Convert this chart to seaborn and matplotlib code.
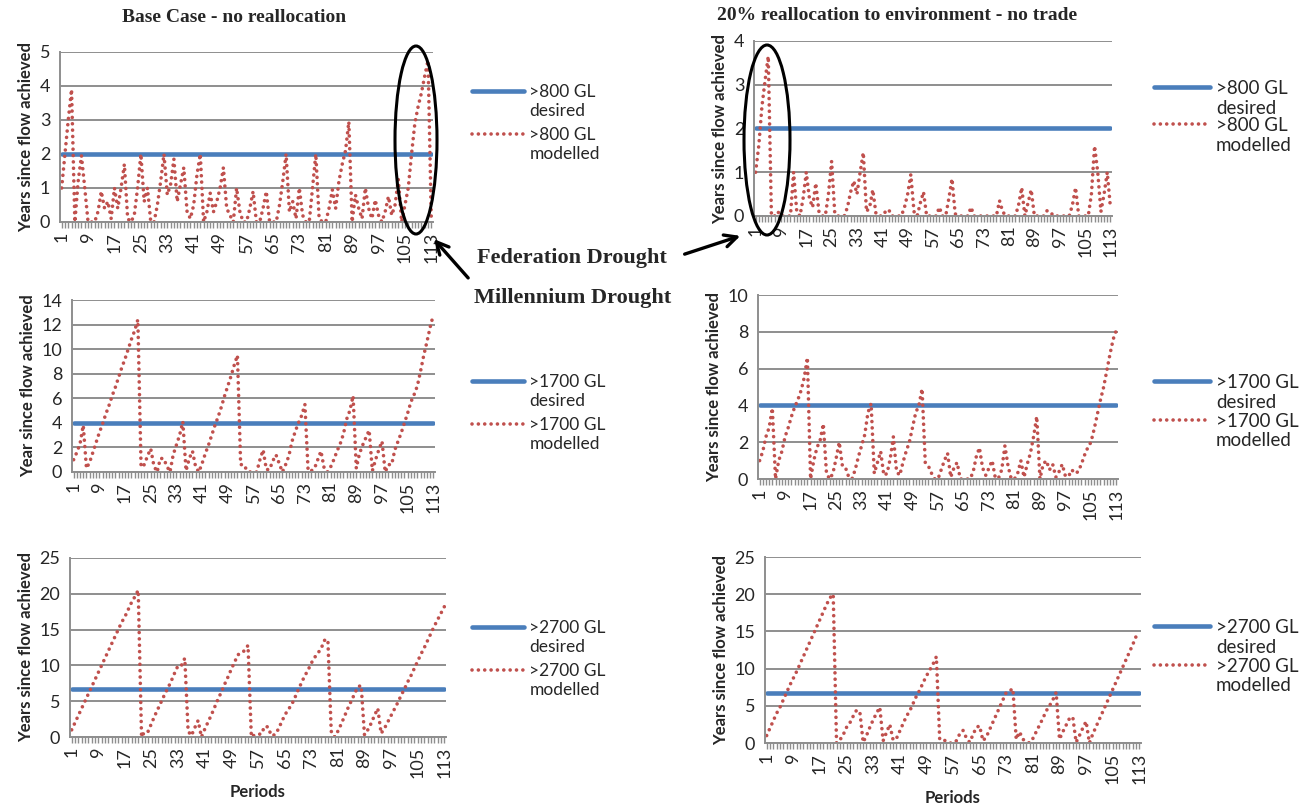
import numpy as np
import pandas as pd
import matplotlib
matplotlib.use("Agg")
import matplotlib.pyplot as plt
import matplotlib.transforms as mtransforms
import seaborn as sns
from matplotlib.patches import Ellipse, FancyArrowPatch
from matplotlib.lines import Line2D
from matplotlib.legend_handler import HandlerLine2D

# ---------------- data ----------------
periods = list(range(1, 114))
tick_periods = list(range(1, 114, 8))

base_800 = [
    1.0, 2.0, 3.0, 3.9, 0.0, 1.2, 1.95, 1.0, 0.0, 0.0,
    0.0, 0.3, 0.9, 0.4, 0.6, 0.1, 1.0, 0.4, 1.0, 1.7,
    0.1, 0.0, 0.2, 1.0, 2.0, 0.6, 1.0, 0.0, 0.0, 0.5,
    1.2, 2.0, 0.8, 1.1, 1.85, 0.6, 1.1, 1.6, 0.3, 0.1,
    0.5, 1.4, 2.0, 0.0, 0.3, 0.85, 0.3, 0.6, 1.0, 1.6,
    0.4, 0.2, 0.0, 1.0, 0.3, 0.0, 0.0, 0.4, 0.9, 0.0,
    0.0, 0.4, 0.9, 0.0, 0.0, 0.0, 0.5, 1.2, 2.0, 0.3,
    0.6, 0.1, 1.0, 0.2, 0.0, 0.0, 1.0, 2.0, 0.1, 0.0,
    0.0, 0.4, 0.95, 0.4, 1.2, 1.7, 2.1, 2.95, 0.0, 0.8,
    0.4, 0.1, 1.0, 0.4, 0.1, 0.65, 0.2, 0.0, 0.3, 0.75,
    0.2, 0.5, 1.25, 0.0, 0.5, 1.0, 2.0, 2.9, 3.4, 3.8,
    4.3, 4.75, 0.0]

realloc_800 = [
    1.0, 1.6, 2.5, 3.1, 3.65, 0.0, 0.0, 0.1, 0.0, 0.0,
    0.0, 0.0, 1.0, 0.1, 0.0, 0.4, 1.0, 0.4, 0.2, 0.75,
    0.1, 0.0, 0.0, 0.5, 1.25, 0.05, 0.0, 0.0, 0.0, 0.2,
    0.55, 0.8, 0.5, 1.0, 1.45, 0.1, 0.2, 0.6, 0.05, 0.0,
    0.0, 0.1, 0.15, 0.0, 0.0, 0.0, 0.0, 0.2, 0.5, 0.95,
    0.1, 0.0, 0.3, 0.55, 0.0, 0.0, 0.0, 0.0, 0.2, 0.0,
    0.0, 0.4, 0.85, 0.05, 0.0, 0.0, 0.0, 0.0, 0.2, 0.0,
    0.0, 0.0, 0.0, 0.0, 0.0, 0.0, 0.0, 0.35, 0.1, 0.0,
    0.0, 0.0, 0.0, 0.25, 0.65, 0.0, 0.3, 0.6, 0.0, 0.0,
    0.0, 0.0, 0.12, 0.1, 0.0, 0.0, 0.0, 0.0, 0.0, 0.0,
    0.25, 0.65, 0.0, 0.0, 0.0, 0.0, 0.5, 1.6, 1.0, 0.1,
    0.5, 1.0, 0.2]

base_1700 = [
    1.0, 1.6, 2.3, 3.8, 0.3, 0.8, 1.6, 2.4, 3.2, 3.9,
    4.7, 5.4, 6.2, 6.9, 7.7, 8.5, 9.2, 10.0, 10.8, 11.5,
    12.4, 0.4, 0.6, 1.3, 1.9, 0.5, 0.0, 1.1, 1.1, 0.5,
    0.0, 1.4, 2.2, 3.0, 4.1, 0.1, 1.1, 1.7, 0.4, 0.0,
    0.7, 1.5, 2.2, 3.0, 3.8, 4.5, 5.3, 6.2, 7.0, 7.8,
    8.7, 9.5, 0.6, 0.6, 0.1, 0.0, 0.0, 0.0, 1.0, 1.8,
    0.2, 0.2, 0.9, 1.4, 0.7, 0.0, 0.6, 1.3, 2.5, 3.3,
    4.0, 4.6, 5.5, 0.1, 0.1, 0.3, 1.0, 1.7, 0.3, 0.0,
    0.4, 1.0, 1.7, 2.3, 3.1, 4.3, 5.0, 6.2, 0.3, 1.5,
    2.2, 2.8, 3.4, 0.1, 1.0, 1.8, 2.5, 0.0, 0.6, 0.6,
    1.8, 2.5, 3.2, 4.0, 4.8, 5.7, 6.3, 7.0, 8.2, 9.5,
    10.6, 11.8, 12.8]

realloc_1700 = [
    1.0, 1.5, 2.3, 2.8, 3.85, 0.0, 1.0, 1.5, 2.3, 2.8,
    3.4, 3.9, 4.3, 4.8, 5.5, 6.6, 0.0, 1.0, 1.7, 2.1,
    3.0, 0.3, 0.0, 0.3, 1.1, 2.0, 0.7, 0.6, 0.1, 0.0,
    0.5, 1.2, 1.8, 2.4, 3.6, 4.1, 0.3, 0.9, 1.5, 0.2,
    0.3, 1.1, 2.3, 0.4, 0.2, 0.9, 1.5, 2.0, 2.8, 3.6,
    4.0, 4.9, 0.9, 0.7, 0.3, 0.0, 0.0, 0.5, 1.0, 1.4,
    0.1, 0.6, 0.9, 0.0, 0.0, 0.0, 0.0, 0.35, 1.2, 1.7,
    0.6, 0.2, 0.6, 1.0, 0.05, 0.05, 0.5, 1.8, 0.7, 0.0,
    0.0, 0.3, 1.0, 0.1, 0.8, 1.4, 2.3, 3.4, 0.0, 0.8,
    1.0, 0.5, 0.8, 0.1, 0.4, 0.8, 0.15, 0.15, 0.5, 0.3,
    0.4, 0.8, 1.3, 1.7, 2.0, 2.7, 3.5, 4.3, 5.0, 5.9,
    6.8, 7.6, 8.1]

base_2700 = [
    1.0, 2.0, 3.0, 4.0, 5.0, 6.0, 7.0, 8.0, 9.0, 10.0,
    11.0, 12.0, 13.0, 14.0, 15.0, 16.0, 16.8, 17.8, 18.8, 19.6,
    20.5, 0.0, 0.8, 0.8, 1.9, 3.0, 4.0, 5.0, 6.0, 6.9,
    7.9, 9.0, 10.0, 10.0, 11.0, 0.8, 0.2, 1.3, 2.3, 0.0,
    1.1, 2.1, 3.1, 4.2, 5.3, 6.3, 7.4, 8.4, 9.5, 10.5,
    11.5, 11.7, 12.1, 12.8, 0.0, 0.3, 0.4, 0.4, 1.5, 1.4,
    0.2, 0.3, 1.0, 2.0, 3.0, 3.8, 4.4, 5.4, 6.5, 7.5,
    8.5, 9.3, 10.3, 11.1, 11.7, 12.4, 13.5, 13.6, 0.8, 0.0,
    0.8, 1.8, 2.9, 4.0, 5.0, 6.0, 7.0, 7.2, 0.3, 1.0,
    1.9, 3.0, 4.0, 0.5, 1.2, 2.1, 3.0, 3.9, 4.8, 5.8,
    6.7, 7.7, 8.6, 9.6, 10.6, 11.6, 12.5, 13.5, 14.5, 15.5,
    16.4, 17.3, 18.2]

realloc_2700 = [
    1.0, 2.0, 3.0, 4.0, 4.8, 5.8, 6.8, 7.8, 8.7, 9.6,
    10.6, 11.6, 12.6, 13.6, 14.6, 15.6, 16.6, 17.6, 18.6, 19.5,
    20.0, 0.0, 0.4, 1.1, 2.1, 2.7, 3.6, 4.4, 4.2, 0.1,
    1.0, 2.1, 3.1, 4.0, 4.8, 0.3, 1.4, 2.5, 0.4, 0.6,
    1.6, 2.6, 3.6, 4.3, 5.3, 6.3, 7.1, 8.1, 9.0, 9.8,
    10.6, 11.6, 0.5, 0.5, 0.2, 0.0, 0.0, 0.3, 1.2, 1.7,
    0.7, 0.1, 1.1, 2.1, 2.3, 0.3, 0.8, 1.8, 2.8, 3.8,
    4.8, 5.8, 6.8, 7.0, 7.3, 0.5, 1.5, 0.5, 0.2, 0.0,
    0.6, 1.5, 2.4, 3.3, 4.3, 5.0, 5.8, 6.8, 0.5, 1.5,
    2.4, 3.3, 3.5, 0.1, 1.0, 2.0, 2.9, 0.0, 1.2, 2.2,
    3.2, 4.2, 5.2, 6.2, 7.2, 8.2, 9.2, 10.2, 11.2, 12.2,
    13.2, 14.3, 14.6]

desired_800 = 2.0
desired_1700 = 4.0
desired_2700 = 6.7

# ---------------- style ----------------
sns.set_theme(style="white")
plt.rcParams["font.family"] = ["Lato", "DejaVu Sans"]

BLUE = "#4A7EBB"
RED = "#C0504D"
GRID = "#8E8E8E"
W, H = 1300, 807

fig = plt.figure(figsize=(W / 100, H / 100), dpi=100)


class TopLineHandler(HandlerLine2D):
    """Legend handle aligned with the first line of a two-line label."""

    def create_artists(self, legend, orig_handle, xdescent, ydescent, width,
                       height, fontsize, trans):
        arts = super().create_artists(legend, orig_handle, xdescent, ydescent,
                                      width, height, fontsize, trans)
        shift = mtransforms.Affine2D().translate(0, 0.62 * fontsize)
        for a in arts:
            a.set_transform(shift + trans)
        return arts


def px_axes(x0, y0, x1, y1):
    return fig.add_axes([x0 / W, 1 - y1 / H, (x1 - x0) / W, (y1 - y0) / H])


panels = [
    dict(box=(60, 52, 433, 222), vals=base_800, des=desired_800, ymax=5, step=1,
         ylabel="Years since flow achieved", gl="800", leg=(472, 84), ls=0.5, fs=12.5, xlabel=False),
    dict(box=(754, 41, 1112, 216), vals=realloc_800, des=desired_800, ymax=4, step=1,
         ylabel="Years since flow achieved", gl="800", leg=(1154, 80), ls=0.02, fs=13.5, xlabel=False),
    dict(box=(72, 300, 435, 472), vals=base_1700, des=desired_1700, ymax=14, step=2,
         ylabel="Year since flow achieved", gl="1700", leg=(472, 374), ls=0.5, fs=12.5, xlabel=False),
    dict(box=(758, 295, 1118, 479), vals=realloc_1700, des=desired_1700, ymax=10, step=2,
         ylabel="Years since flow achieved", gl="1700", leg=(1154, 374), ls=0.1, fs=13.5, xlabel=False),
    dict(box=(70, 558, 446, 737), vals=base_2700, des=desired_2700, ymax=25, step=5,
         ylabel="Years since flow achieved", gl="2700", leg=(472, 620), ls=0.5, fs=12.5, xlabel=True),
    dict(box=(765, 557, 1141, 743), vals=realloc_2700, des=desired_2700, ymax=25, step=5,
         ylabel="Years since flow achieved", gl="2700", leg=(1154, 619), ls=0.1, fs=13.5, xlabel=True),
]

for p in panels:
    ax = px_axes(*p["box"])
    df = pd.DataFrame({
        "Period": periods,
        "modelled": p["vals"],
        "desired": [p["des"]] * len(periods),
    })
    sns.lineplot(data=df, x="Period", y="desired", ax=ax, color=BLUE, lw=3.3,
                 errorbar=None, label=">%s GL\ndesired" % p["gl"])
    sns.lineplot(data=df, x="Period", y="modelled", ax=ax, color=RED, lw=2.6,
                 linestyle=(0, (0.01, 1.75)), dash_capstyle="round",
                 errorbar=None, label=">%s GL\nmodelled" % p["gl"])

    ax.set_xlim(0.5, 113.5)
    ax.set_ylim(0, p["ymax"])
    ax.set_yticks(list(range(0, p["ymax"] + 1, p["step"])))
    ax.set_xticks(tick_periods)
    ax.set_xticklabels([str(t) for t in tick_periods], rotation=90, fontsize=13)
    ax.set_xticks(periods, minor=True)
    ax.tick_params(axis="y", labelsize=13, length=4, color=GRID, width=1.2, pad=3)
    ax.tick_params(axis="x", which="both", length=4, color=GRID, width=1.0,
                   direction="out", pad=3, bottom=True)
    ax.yaxis.grid(True, color=GRID, lw=1.4)
    ax.xaxis.grid(False)
    ax.set_axisbelow(True)
    for s in ["top", "right"]:
        ax.spines[s].set_visible(False)
    for s in ["left", "bottom"]:
        ax.spines[s].set_color(GRID)
        ax.spines[s].set_linewidth(1.4)
    ax.set_ylabel(p["ylabel"], fontsize=12, fontweight="bold", labelpad=4)
    ax.set_xlabel("Periods" if p["xlabel"] else "", fontsize=12, fontweight="bold", labelpad=4)
    lx, ly = p["leg"]
    ax.legend(loc="upper left", bbox_to_anchor=(lx / W, 1 - ly / H),
              bbox_transform=fig.transFigure, frameon=False, fontsize=p["fs"],
              handlelength=3.0, handletextpad=0.3, borderpad=0, borderaxespad=0,
              labelspacing=p["ls"], handler_map={Line2D: TopLineHandler()})

# titles
serif = ["Liberation Serif", "DejaVu Serif"]
fig.text(234 / W, 1 - 17 / H, "Base Case - no reallocation", ha="center", va="center",
         fontsize=14, fontweight="bold", family=serif)
fig.text(897 / W, 1 - 15 / H, "20% reallocation to environment - no trade", ha="center",
         va="center", fontsize=14, fontweight="bold", family=serif)

# annotations
fig.text(572 / W, 1 - 258 / H, "Federation Drought", ha="center", va="center",
         fontsize=16, fontweight="bold", family=serif)
fig.text(573 / W, 1 - 298 / H, "Millennium Drought", ha="center", va="center",
         fontsize=16, fontweight="bold", family=serif)


def fp(x, y):
    return (x / W, 1 - y / H)


for (cx, cy, ew, eh) in [(416, 140, 42, 188), (767, 140, 46, 190)]:
    e = Ellipse(fp(cx, cy), ew / W, eh / H, transform=fig.transFigure,
                fill=False, ec="black", lw=2.2)
    fig.add_artist(e)

for (a, b) in [((470, 280), (432, 237)), ((682, 255), (743, 235))]:
    arr = FancyArrowPatch(fp(*a), fp(*b), transform=fig.transFigure,
                          arrowstyle="->", mutation_scale=22, lw=2.4, color="black")
    fig.add_artist(arr)

fig.savefig("out.png", dpi=100, facecolor="white")
